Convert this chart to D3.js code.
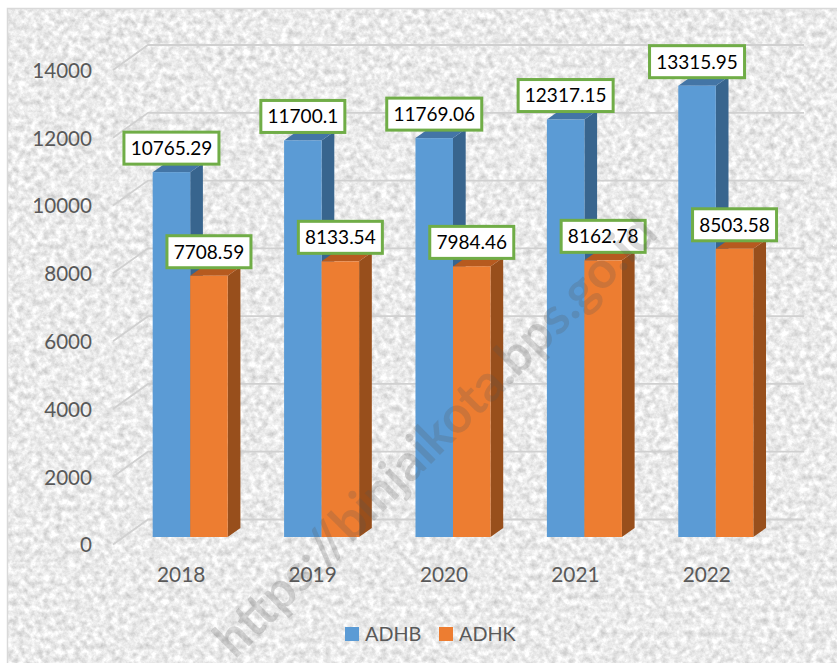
<!DOCTYPE html>
<html>
<head>
<meta charset="utf-8">
<script src="https://cdn.jsdelivr.net/npm/d3@7"></script>
<style>
  html, body { margin: 0; padding: 0; background: #fff; }
  svg { display: block; }
  text { font-family: Lato, "Open Sans", sans-serif; }
</style>
</head>
<body>
<svg id="chart" width="837" height="668"></svg>
<script>
// data
var years = ["2018", "2019", "2020", "2021", "2022"];
var seriesNames = ["ADHB", "ADHK"];
var adhb = [10765.29, 11700.1, 11769.06, 12317.15, 13315.95];
var adhk = [7708.59, 8133.54, 7984.46, 8162.78, 8503.58];
var yTicks = [0, 2000, 4000, 6000, 8000, 10000, 12000, 14000];

var seriesValues = [adhb, adhk];
var colors = [
  { front: "#5b9bd5", side: "#38658e", top: "#4375a6" },
  { front: "#ed7d31", side: "#984f1c", top: "#b65a1f" }
];

var width = 837, height = 668;
var svg = d3.select("#chart");

// 3d offsets, all measured on the picture
var wallDx = 35, wallDy = -25;   // front edge of the floor -> back wall
var barDx = 11, barDy = -7.5;    // front edge of the floor -> front face of the bars
var depthDx = 12.7, depthDy = -9; // bar depth

// scales sit on the front edge of the floor
var x = d3.scaleBand().domain(years).range([113.5, 770.5]).paddingInner(0.429).paddingOuter(0.2145);
var xSeries = d3.scaleBand().domain([0, 1]).range([0, x.bandwidth()]);
var y = d3.scaleLinear().domain([0, 14000]).range([544.5, 70]);

var defs = svg.append("defs");
var noise = defs.append("filter")
  .attr("id", "paper")
  .attr("x", 0).attr("y", 0).attr("width", "100%").attr("height", "100%")
  .attr("color-interpolation-filters", "sRGB");
noise.append("feTurbulence")
  .attr("type", "fractalNoise")
  .attr("baseFrequency", 0.16)
  .attr("numOctaves", 4)
  .attr("seed", 7);
noise.append("feColorMatrix")
  .attr("type", "matrix")
  .attr("values", "0.34 0 0 0 0.75  0.34 0 0 0 0.75  0.34 0 0 0 0.75  0 0 0 0 1");

// background
svg.append("rect").attr("width", width).attr("height", height).attr("fill", "#fff");
svg.append("rect")
  .attr("x", 7).attr("y", 8).attr("width", width - 7).attr("height", 655)
  .attr("filter", "url(#paper)");
svg.append("path")
  .attr("d", "M7.5,663V8.5H837")
  .attr("fill", "none").attr("stroke", "#d9d9d9").attr("stroke-width", 1.5);

// gridlines: diagonal on the side wall, then along the back wall
var grid = svg.append("g").attr("fill", "none").attr("stroke", "#d0d0d0").attr("stroke-width", 1.8);
grid.selectAll("path")
  .data(yTicks)
  .join("path")
  .attr("d", d => `M113,${y(d)}L${113 + wallDx},${y(d) + wallDy}H804`);

// y axis labels
svg.append("g").selectAll("text")
  .data(yTicks)
  .join("text")
  .attr("x", 92).attr("y", d => y(d) + 0.5)
  .attr("dy", "0.36em")
  .attr("text-anchor", "end")
  .attr("font-size", 20.6)
  .attr("fill", "#595959")
  .text(d => d);

// x axis labels
svg.append("g").selectAll("text")
  .data(years)
  .join("text")
  .attr("x", d => x(d) + x.bandwidth() / 2 + 2)
  .attr("y", 575)
  .attr("dy", "0.36em")
  .attr("text-anchor", "middle")
  .attr("font-size", 20.8)
  .attr("fill", "#595959")
  .text(d => d);

// bars
var bars = [];
seriesValues.forEach((vals, s) => {
  vals.forEach((v, i) => bars.push({ s: s, year: years[i], value: v }));
});

var barX = d => x(d.year) + xSeries(d.s) + barDx;
var barTop = d => y(d.value) + barDy;
var barBase = y(0) + barDy;
var barW = xSeries.bandwidth();

var barG = svg.append("g").selectAll("g")
  .data(bars)
  .join("g");

barG.append("path") // side
  .attr("fill", d => colors[d.s].side)
  .attr("d", d => {
    var r = barX(d) + barW;
    return `M${r},${barTop(d)}l${depthDx},${depthDy}V${barBase + depthDy}l${-depthDx},${-depthDy}Z`;
  });
barG.append("path") // top
  .attr("fill", d => colors[d.s].top)
  .attr("d", d => `M${barX(d)},${barTop(d)}l${depthDx},${depthDy}h${barW}l${-depthDx},${-depthDy}Z`);
barG.append("rect") // front
  .attr("x", barX)
  .attr("y", barTop)
  .attr("width", barW)
  .attr("height", d => barBase - barTop(d))
  .attr("fill", d => colors[d.s].front);

// value labels
var labelG = svg.append("g").selectAll("g")
  .data(bars)
  .join("g")
  .attr("transform", d => `translate(${barX(d) + barW / 2},${barTop(d) - 8})`);

labelG.append("rect")
  .attr("x", d => String(d.value).length > 7 ? -47.5 : -42)
  .attr("y", -32)
  .attr("width", d => String(d.value).length > 7 ? 95 : 84)
  .attr("height", 32)
  .attr("fill", "#fff")
  .attr("stroke", "#70ad47")
  .attr("stroke-width", 3);

labelG.append("text")
  .attr("x", 0).attr("y", -16)
  .attr("dy", "0.36em")
  .attr("text-anchor", "middle")
  .attr("font-size", 19)
  .attr("fill", "#000")
  .text(d => d.value);

// legend
var legendX = d3.scaleOrdinal().domain(seriesNames).range([345, 439]);
var legend = svg.append("g").selectAll("g")
  .data(seriesNames)
  .join("g")
  .attr("transform", d => `translate(${legendX(d)},627)`);
legend.append("rect")
  .attr("width", 14).attr("height", 14)
  .attr("fill", (d, i) => colors[i].front);
legend.append("text")
  .attr("x", 20).attr("y", 7)
  .attr("dy", "0.36em")
  .attr("font-size", 19.8)
  .attr("fill", "#595959")
  .text(d => d);

// watermark
svg.append("text")
  .attr("transform", "translate(235,660) rotate(-45)")
  .attr("font-size", 51)
  .attr("font-weight", 700)
  .attr("fill", "#555")
  .attr("fill-opacity", 0.22)
  .text("https://binjaikota.bps.go.id");
</script>
</body>
</html>
